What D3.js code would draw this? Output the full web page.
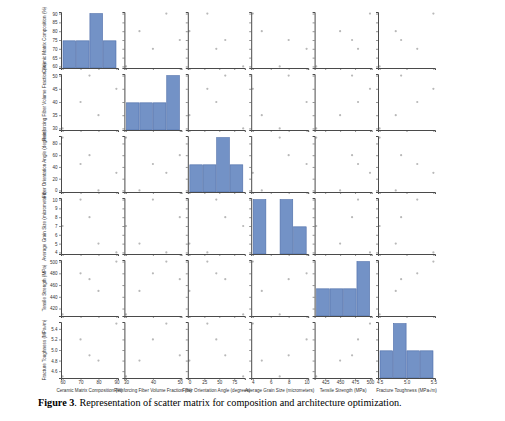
<!DOCTYPE html>
<html>
<head>
  <script src="https://cdn.jsdelivr.net/npm/d3@7"></script>
  <style>
    body { margin: 0; background: #fff; }
    .tick text { font-family: "Liberation Sans", Arial, sans-serif; font-size: 4.5px; fill: #333; }
    .lab { font-family: "Liberation Sans", Arial, sans-serif; font-size: 4.6px; fill: #333; }
  </style>
</head>
<body>
<script>
// variable names (axis titles)
var names = [
  "Ceramic Matrix Composition (%)",
  "Reinforcing Fiber Volume Fraction (%)",
  "Fiber Orientation Angle (degrees)",
  "Average Grain Size (micrometers)",
  "Tensile Strength (MPa)",
  "Fracture Toughness (MPa\u221Am)"
];
// the five samples
var ceramic  = [60, 70, 75, 80, 90];
var fiber    = [30, 40, 50, 35, 45];
var angle    = [90, 45, 60, 0, 30];
var grain    = [7, 10, 8, 5, 4];
var tensile  = [410, 480, 470, 450, 500];
var fracture = [4.5, 5.2, 4.9, 4.8, 5.5];
var columns = [ceramic, fiber, angle, grain, tensile, fracture];

// tick labels
var xTicks = [[60, 70, 80, 90], [30, 40, 50], [0, 25, 50, 75], [4, 6, 8, 10], [425, 450, 475, 500], [4.5, 5.0, 5.5]];
var yTicks = [[60, 65, 70, 75, 80, 85, 90], [30, 35, 40, 45, 50], [0, 20, 40, 60, 80], [4, 5, 6, 7, 8, 9, 10], [420, 440, 460, 480, 500], [4.6, 4.8, 5.0, 5.2, 5.4]];
var tickFmt = [d3.format("d"), d3.format("d"), d3.format("d"), d3.format("d"), d3.format("d"), d3.format(".1f")];
var nBins = 4;

var W = 505, H = 421;
var n = names.length;
var left0 = 61, pitchX = 63.4, pw = 57;
var top0 = 12, pitchY = 62, ph = 56;

var svg = d3.select("body").append("svg")
  .attr("width", W).attr("height", H);

// one scale per variable, padded like matplotlib margins
function padded(ext, p) {
  var d = (ext[1] - ext[0]) * p;
  return [ext[0] - d, ext[1] + d];
}
var xs = columns.map(function (c) {
  return d3.scaleLinear().domain(padded(d3.extent(c), 0.03)).range([0, pw]);
});
var ys = columns.map(function (c) {
  return d3.scaleLinear().domain(padded(d3.extent(c), 0.03)).range([ph, 0]);
});

function styleAxis(g) {
  g.select(".domain").attr("stroke", "#4a4a4a").attr("stroke-width", 1);
  g.selectAll(".tick line").attr("stroke", "#4a4a4a").attr("stroke-width", 0.6);
}

for (var r = 0; r < n; r++) {
  for (var c = 0; c < n; c++) {
    var g = svg.append("g")
      .attr("transform", "translate(" + (left0 + c * pitchX) + "," + (top0 + r * pitchY) + ")");

    if (r === c) {
      // histogram on the diagonal
      var ext = d3.extent(columns[c]);
      var step = (ext[1] - ext[0]) / nBins;
      var th = d3.range(1, nBins).map(function (i) { return ext[0] + i * step; });
      var bins = d3.bin().domain(ext).thresholds(th)(columns[c]);
      var hy = d3.scaleLinear()
        .domain([0, d3.max(bins, function (b) { return b.length; }) * 1.03])
        .range([ph, 0]);
      g.selectAll("rect").data(bins.filter(function (b) { return b.length > 0; }))
        .enter().append("rect")
        .attr("x", function (b) { return xs[c](b.x0) + 0.4; })
        .attr("width", function (b) { return xs[c](b.x1) - xs[c](b.x0) - 0.8; })
        .attr("y", function (b) { return hy(b.length); })
        .attr("height", function (b) { return ph - hy(b.length); })
        .attr("fill", "#7392c6")
        .attr("stroke", "#4c6ca8")
        .attr("stroke-width", 0.6);
    } else {
      g.selectAll("circle").data(d3.range(columns[c].length))
        .enter().append("circle")
        .attr("cx", function (i) { return xs[c](columns[c][i]); })
        .attr("cy", function (i) { return ys[r](columns[r][i]); })
        .attr("r", 1.1)
        .attr("fill", "#b8b8b8");
    }

    // axes: left and bottom spines only
    var ya = d3.axisLeft(ys[r]).tickValues(yTicks[r]).tickSize(2).tickPadding(1.5)
      .tickFormat(c === 0 ? tickFmt[r] : "");
    var yg = g.append("g").call(ya);
    styleAxis(yg);

    var xa = d3.axisBottom(xs[c]).tickValues(xTicks[c]).tickSize(2).tickPadding(1)
      .tickFormat(r === n - 1 ? tickFmt[c] : "");
    var xg = g.append("g").attr("transform", "translate(0," + ph + ")").call(xa);
    styleAxis(xg);
  }
}

// axis titles
names.forEach(function (name, i) {
  svg.append("text").attr("class", "lab")
    .attr("text-anchor", "middle")
    .attr("transform", "translate(" + (left0 - 15) + "," + (top0 + i * pitchY + ph / 2) + ") rotate(-90)")
    .text(name);
  svg.append("text").attr("class", "lab")
    .attr("text-anchor", "middle")
    .attr("x", left0 + i * pitchX + pw / 2)
    .attr("y", top0 + (n - 1) * pitchY + ph + 13.5)
    .text(name);
});

// caption
var cap = svg.append("text")
  .attr("x", 38).attr("y", 406)
  .attr("font-family", "'Liberation Serif', 'Times New Roman', serif")
  .attr("font-size", "10.2px")
  .attr("fill", "#000");
cap.append("tspan").attr("font-weight", "bold").text("Figure 3");
cap.append("tspan").text(". Representation of scatter matrix for composition and architecture optimization.");
</script>
</body>
</html>
